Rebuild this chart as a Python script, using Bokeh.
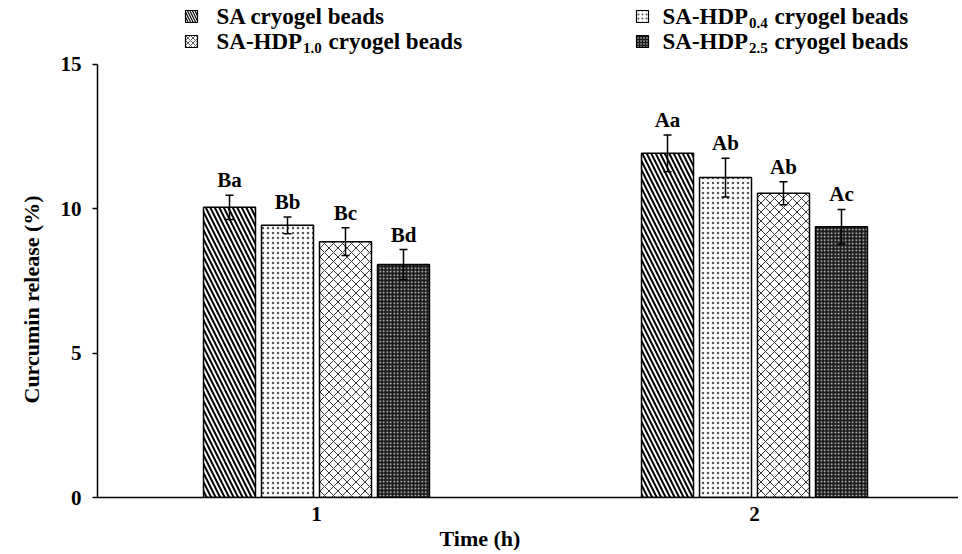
import math
from bokeh.plotting import figure
from bokeh.models import ColumnDataSource, Range1d, FixedTicker, Whisker, TeeHead, Title
from bokeh.core.properties import value
from bokeh.embed import file_html
from bokeh.resources import INLINE

# ---------------- data ----------------
times = [1, 2]
time_labels = ["1", "2"]
y_ticks = [0, 5, 10, 15]

sa = [10.05, 11.92]
hdp04 = [9.43, 11.08]
hdp10 = [8.86, 10.54]
hdp25 = [8.07, 9.38]

sa_err = [0.42, 0.64]
hdp04_err = [0.29, 0.67]
hdp10_err = [0.48, 0.40]
hdp25_err = [0.52, 0.60]

sa_sig = ["Ba", "Aa"]
hdp04_sig = ["Bb", "Ab"]
hdp10_sig = ["Bc", "Ab"]
hdp25_sig = ["Bd", "Ac"]

legend_main = ["SA cryogel beads", "SA-HDP", "SA-HDP", "SA-HDP"]
legend_sub = ["", "0.4", "1.0", "2.5"]
legend_tail = ["", "cryogel beads", "cryogel beads", "cryogel beads"]

x_title = "Time (h)"
y_title = "Curcumin release (%)"

# ---------------- layout ----------------
FONT = value("Liberation Serif")
W, H = 958, 552
BL = 97
BB = H - 497
FW, FH = W - BL, H - BB
X0 = 0.5
X1 = X0 + FW / 438.0
Y0 = 0.0
Y1 = FH / 28.87

def dx(px):  # image-pixel x -> data
    return X0 + (px - BL) / FW * (X1 - X0)

def dy(py):  # image-pixel y -> data
    return Y0 + (FH - py) / FH * (Y1 - Y0)

p = figure(width=W, height=H, x_range=Range1d(X0, X1), y_range=Range1d(Y0, Y1),
           output_backend="svg", toolbar_location=None,
           min_border_left=BL, min_border_right=0, min_border_top=0, min_border_bottom=BB)
p.outline_line_color = None
p.grid.visible = False
p.background_fill_color = "white"

bar_w = 0.1187
step = 0.1324
offsets = [-1.5 * step, -0.5 * step, 0.5 * step, 1.5 * step]

styles = [
    dict(fill_color="white", hatch_pattern="\\", hatch_scale=9, hatch_weight=2, hatch_color="black"),
    dict(fill_color="white", hatch_pattern=".", hatch_scale=5, hatch_weight=0.5, hatch_color="#555555"),
    dict(fill_color="white", hatch_pattern="x", hatch_scale=9, hatch_weight=1, hatch_color="#333333"),
    dict(fill_color="#1a1a1a", hatch_pattern=".", hatch_scale=3.5, hatch_weight=0.3, hatch_color="#dddddd"),
]
swatch_scale = [5, 4, 5, 3]
swatch_weight = [1.2, 0.4, 0.8, 0.3]

series = [(sa, sa_err, sa_sig), (hdp04, hdp04_err, hdp04_sig),
          (hdp10, hdp10_err, hdp10_sig), (hdp25, hdp25_err, hdp25_sig)]

for i, (vals, errs, sig) in enumerate(series):
    xs = [t + offsets[i] for t in times]
    src = ColumnDataSource(dict(x=xs, top=vals,
                                upper=[v + e for v, e in zip(vals, errs)],
                                lower=[v - e for v, e in zip(vals, errs)],
                                sig=sig))
    p.vbar(x="x", top="top", width=bar_w, source=src, line_color="black", line_width=1.5,
           **styles[i])
    w = Whisker(source=src, base="x", upper="upper", lower="lower", line_color="black",
                line_width=1.5, level="overlay",
                upper_head=TeeHead(size=8, line_width=1.5, line_color="black"),
                lower_head=TeeHead(size=8, line_width=1.5, line_color="black"))
    p.add_layout(w)
    p.text(x="x", y="upper", text="sig", source=src, text_align="center",
           text_baseline="bottom", y_offset=-3, text_font=FONT, text_font_style="bold",
           text_font_size="21px", text_color="black")

# ---------------- legend (manual, for subscripts) ----------------
leg_sw_x = [191, 642, 191, 642]
leg_tx_x = [216, 662, 216, 662]
leg_y = [16, 16, 41, 41]
FS, SFS = 23, 15
for i in range(4):
    st = dict(styles[i])
    st["hatch_scale"] = swatch_scale[i]
    st["hatch_weight"] = swatch_weight[i]
    p.rect(x=[dx(leg_sw_x[i])], y=[dy(leg_y[i])], width=12, height=12, width_units="screen",
           height_units="screen", line_color="black", line_width=1.2, **st)
    p.text(x=[dx(leg_tx_x[i])], y=[dy(leg_y[i])], text=[legend_main[i]], text_align="left",
           text_baseline="middle", text_font=FONT, text_font_style="bold",
           text_font_size=f"{FS}px", text_color="black")
    if legend_sub[i]:
        sx = leg_tx_x[i] + 3.722 * FS + 1
        p.text(x=[dx(sx)], y=[dy(leg_y[i])], text=[legend_sub[i]], text_align="left",
               text_baseline="middle", y_offset=6, text_font=FONT, text_font_style="bold",
               text_font_size=f"{SFS}px", text_color="black")
        tx = sx + 1.25 * SFS + 0.25 * FS + 1
        p.text(x=[dx(tx)], y=[dy(leg_y[i])], text=[legend_tail[i]], text_align="left",
               text_baseline="middle", text_font=FONT, text_font_style="bold",
               text_font_size=f"{FS}px", text_color="black")

# ---------------- axes ----------------
p.yaxis.ticker = FixedTicker(ticks=y_ticks)
p.yaxis.bounds = (0, 15)
p.yaxis.major_tick_out = 5
p.yaxis.major_tick_in = 0
p.yaxis.minor_tick_line_color = None
p.yaxis.major_label_standoff = 11
p.xaxis.ticker = FixedTicker(ticks=times)
p.xaxis.major_label_overrides = {t: l for t, l in zip(times, time_labels)}
p.xaxis.major_tick_out = 0
p.xaxis.major_tick_in = 0
p.xaxis.minor_tick_line_color = None
p.xaxis.major_label_standoff = 9
for ax in (p.xaxis, p.yaxis):
    ax.axis_line_color = "black"
    ax.axis_line_width = 1.5
    ax.major_tick_line_color = "black"
    ax.major_tick_line_width = 1.5
    ax.major_label_text_font = "Liberation Serif"
    ax.major_label_text_font_style = "bold"
    ax.major_label_text_font_size = "21px"
    ax.major_label_text_color = "black"

yt = Title(text=y_title, align="left", offset=94, standoff=28,
           text_font="Liberation Serif", text_font_style="bold", text_font_size="22px",
           text_color="#000000")
p.add_layout(yt, "left")
xt = Title(text=x_title, align="left", offset=342, standoff=0,
           text_font="Liberation Serif", text_font_style="bold", text_font_size="22px",
           text_color="#000000")
p.add_layout(xt, "below")

open("out.html", "w").write(file_html(p, INLINE))
